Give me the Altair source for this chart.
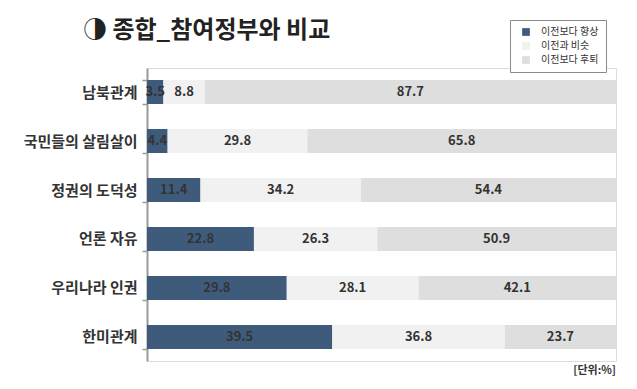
import altair as alt
import pandas as pd

categories = ["남북관계", "국민들의 살림살이", "정권의 도덕성", "언론 자유", "우리나라 인권", "한미관계"]
series = ["이전보다 향상", "이전과 비슷", "이전보다 후퇴"]
improved = [3.5, 4.4, 11.4, 22.8, 29.8, 39.5]
similar = [8.8, 29.8, 34.2, 26.3, 28.1, 36.8]
worse = [87.7, 65.8, 54.4, 50.9, 42.1, 23.7]
colors = ["#3f5b7c", "#f1f1f1", "#dedede"]
title_text = "◑ 종합_참여정부와 비교"
unit_text = "[단위:%]"

rows = []
for i, c in enumerate(categories):
    for j, (s, v) in enumerate(zip(series, [improved[i], similar[i], worse[i]])):
        rows.append({"category": c, "series": s, "value": v, "order": j})
df = pd.DataFrame(rows)

W, H = 469, 293

base = alt.Chart(df).transform_stack(
    stack="value", groupby=["category"], as_=["x0", "x1"], sort=[alt.SortField("order")]
).transform_calculate(
    mid="(datum.x0 + datum.x1) / 2",
    label="format(datum.value, '.1f')"
)

yenc = alt.Y("category:N", sort=categories,
             scale=alt.Scale(paddingInner=0.51, paddingOuter=0.245),
             axis=alt.Axis(title=None, labelFont="Noto Sans CJK KR", labelFontSize=15,
                           labelColor="#333333", labelPadding=5, domainColor="#9a9a9a",
                           domainWidth=2, tickColor="#9a9a9a", tickSize=5, tickWidth=1.5,
                           tickBand="extent", labelFontWeight="bold", labelLimit=200))

bars = base.mark_bar().encode(
    x=alt.X("x0:Q", scale=alt.Scale(domain=[0, 100]), axis=None),
    x2="x1:Q",
    y=yenc,
    color=alt.Color("series:N", sort=series,
                    scale=alt.Scale(domain=series, range=colors),
                    legend=alt.Legend(title=None, orient="none", legendX=363, legendY=-48,
                                      strokeColor="#8a8a8a", padding=7, fillColor="white",
                                      symbolType="square", symbolSize=60, symbolStrokeWidth=0,
                                      labelFont="Noto Sans CJK KR", labelFontSize=10,
                                      labelOffset=10, symbolOffset=4,
                                      labelColor="#333333", rowPadding=4, labelLimit=120)),
)

labels = base.mark_text(font="Noto Sans CJK KR", fontSize=13, fontWeight="bold",
                        color="#333333").encode(
    x=alt.X("mid:Q", scale=alt.Scale(domain=[0, 100])),
    y=alt.Y("category:N", sort=categories),
    text="label:N",
)

unit = alt.Chart(pd.DataFrame({"t": [unit_text]})).mark_text(
    font="Noto Sans CJK KR", fontSize=11, fontWeight="bold", color="#333333",
    align="right", baseline="middle"
).encode(x=alt.value(W), y=alt.value(H + 10), text="t:N")

title = alt.Chart(pd.DataFrame({"t": [title_text]})).mark_text(
    font="Noto Sans CJK KR", fontSize=24, fontWeight="bold", color="#222222",
    align="left", baseline="alphabetic"
).encode(x=alt.value(-64), y=alt.value(-30), text="t:N")

chart = alt.layer(bars, labels, unit, title).properties(
    width=W, height=H,
    autosize=alt.AutoSizeParams(type="none"),
    padding={"left": 139, "top": 60, "right": 13, "bottom": 20},
).configure_view(stroke=None).configure(background="white")

chart.save("out.html", embed_options={"renderer": "svg", "actions": False})
